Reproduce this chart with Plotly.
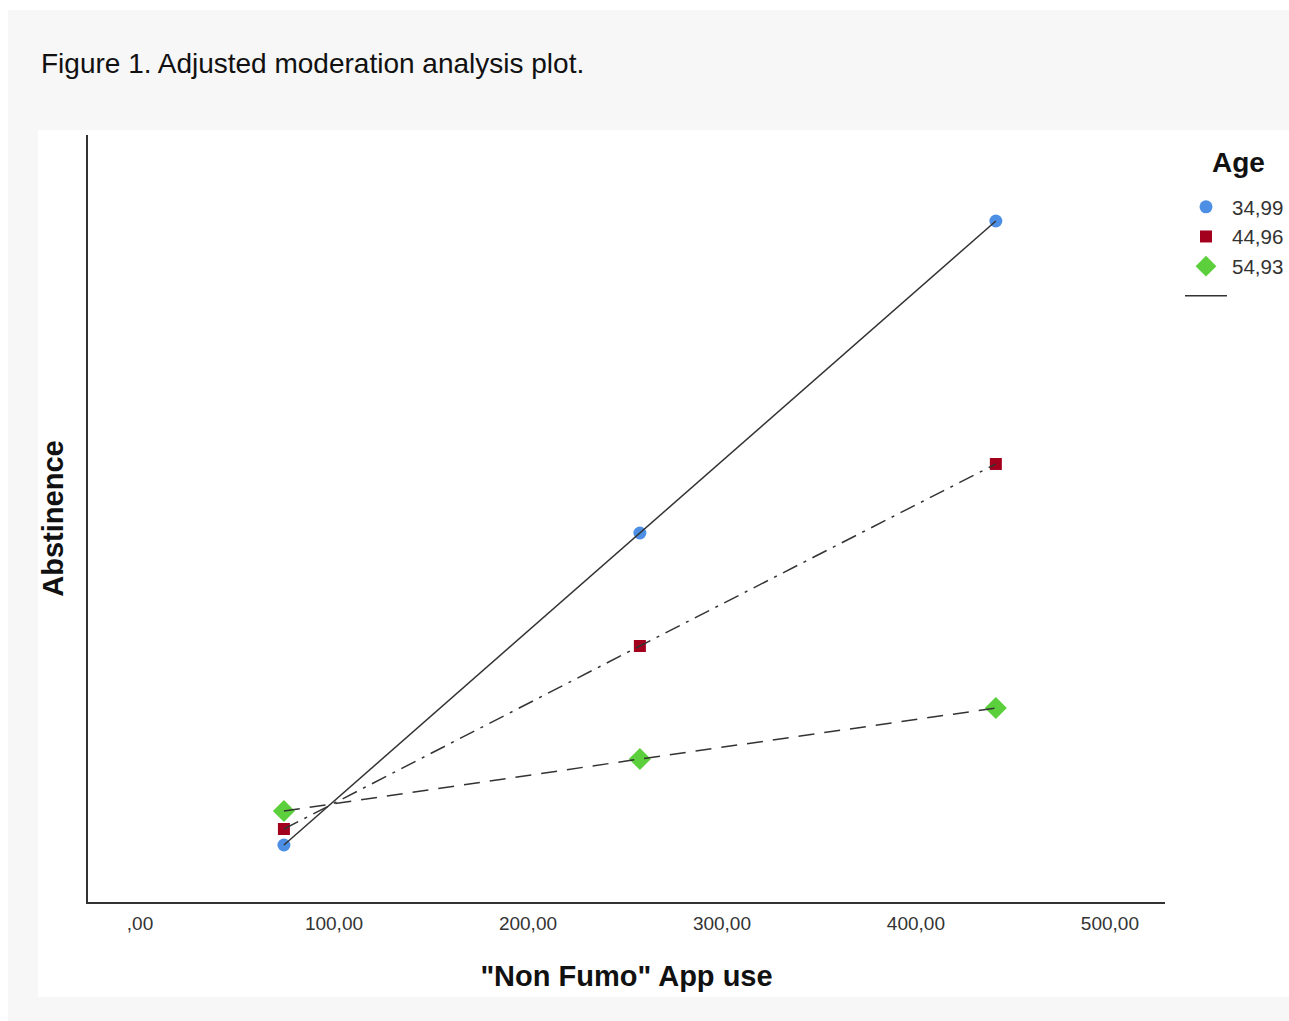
import plotly.graph_objects as go

# Data (y in arbitrary Abstinence units)
app_use = [74.2, 257.7, 441.2]
age_labels = ["34,99", "44,96", "54,93"]
abst_34 = [0.0743, 0.4811, 0.8879]
abst_44 = [0.0952, 0.3338, 0.5711]
abst_54 = [0.1186, 0.1864, 0.2529]
x_ticks = [0, 100, 200, 300, 400, 500]
x_ticktext = [",00", "100,00", "200,00", "300,00", "400,00", "500,00"]

series = [abst_34, abst_44, abst_54]
colors = ["#4d8fe4", "#a3001d", "#5ccf3d"]
symbols = ["circle", "square", "diamond"]
msizes = [13, 12, 17]
dashes = ["solid", "16px,7px,3px,7px", "16px,10px"]

W, H = 1289, 1021
L, R, T, B = 88, 1165, 135, 902
FONT = "Liberation Sans, Arial, sans-serif"

def px(x):
    return (x - L) / (R - L)

def py(y):
    return (B - y) / (B - T)

fig = go.Figure()

# markers first (lines drawn over them)
for lab, ys, c, s, ms in zip(age_labels, series, colors, symbols, msizes):
    fig.add_trace(go.Scatter(x=app_use, y=ys, mode="markers", name=lab,
                             marker=dict(color=c, symbol=s, size=ms, line=dict(width=0))))
for i, (ys, d) in enumerate(zip(series, dashes)):
    fig.add_trace(go.Scatter(x=app_use, y=ys, mode="lines", name=" ",
                             line=dict(color="#333333", width=1.5, dash=d),
                             showlegend=(i == 0)))

fig.add_shape(type="rect", xref="paper", yref="paper",
              x0=px(8), x1=px(1310), y0=py(1040), y1=py(10),
              fillcolor="#f7f7f7", line=dict(width=0), layer="below")
fig.add_shape(type="rect", xref="paper", yref="paper",
              x0=px(38), x1=px(1310), y0=py(997), y1=py(130),
              fillcolor="white", line=dict(width=0), layer="below")

fig.add_annotation(text="Figure 1. Adjusted moderation analysis plot.",
                   xref="paper", yref="paper", x=px(39), y=py(63),
                   xanchor="left", yanchor="middle", showarrow=False,
                   font=dict(family=FONT, size=28, color="#111111"))
fig.add_annotation(text="<b>Age</b>", xref="paper", yref="paper",
                   x=px(1238), y=py(163), xanchor="center", yanchor="middle",
                   showarrow=False,
                   font=dict(family=FONT, size=28, color="#111111"))

fig.update_layout(
    width=W, height=H,
    margin=dict(l=L, r=W - R, t=T, b=H - B, autoexpand=False),
    paper_bgcolor="white",
    plot_bgcolor="white",
    showlegend=True,
    legend=dict(x=px(1180), y=py(187), xanchor="left", yanchor="top",
                bgcolor="rgba(0,0,0,0)", borderwidth=0, itemwidth=42,
                font=dict(family=FONT, size=20.5, color="#333333"),
                tracegroupgap=0),
    font=dict(family=FONT),
)

fig.update_xaxes(range=[-26.8, 528.4], tickvals=x_ticks, ticktext=x_ticktext,
                 showgrid=False, zeroline=False, showline=True, linecolor="#333333", linewidth=2,
                 ticks="outside", ticklen=3, tickcolor="rgba(0,0,0,0)",
                 tickfont=dict(size=19, color="#333333"),
                 title=dict(text="<b>\"Non Fumo\" App use</b>", standoff=33,
                            font=dict(size=29, color="#111111")))
fig.update_yaxes(range=[0, 1], showticklabels=False, ticks="",
                 showgrid=False, zeroline=False, showline=True, linecolor="#333333", linewidth=2,
                 title=dict(text="<b>Abstinence</b>", standoff=14,
                            font=dict(size=29, color="#111111")))

fig.write_html("out.html", post_script="document.body.style.margin='0px';",
               config={"displayModeBar": False})
